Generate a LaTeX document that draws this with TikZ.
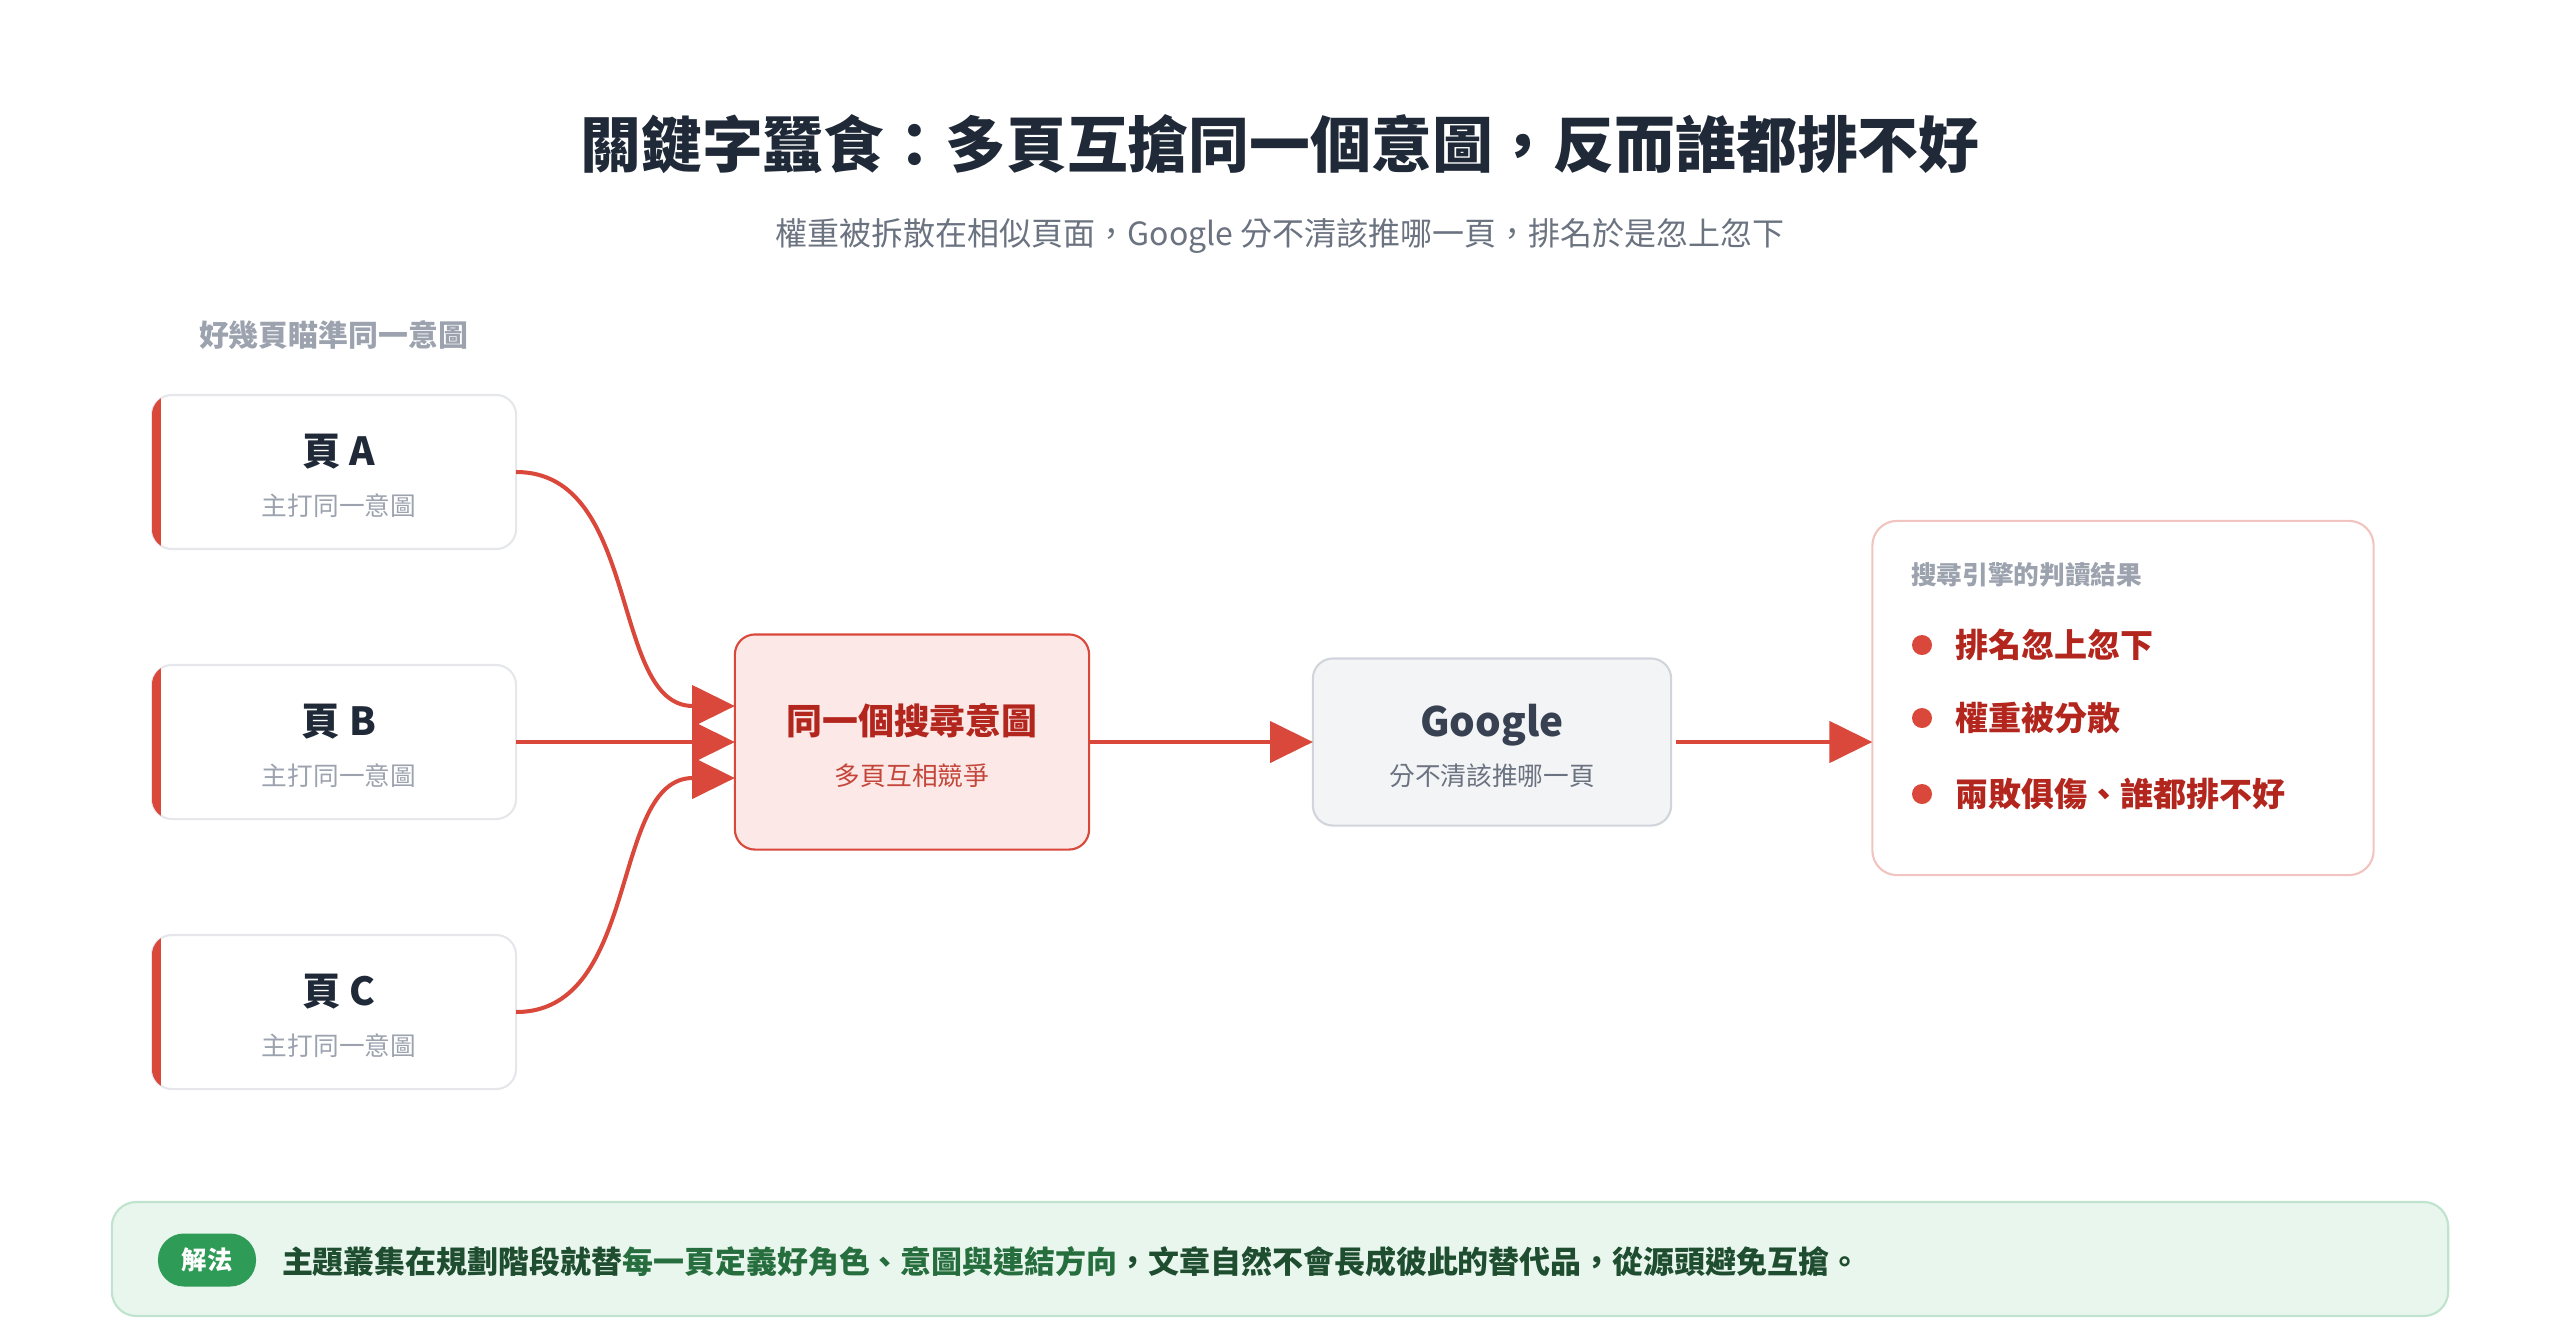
\documentclass[tikz,border=0pt]{standalone}
\usepackage{fontspec}
\setmainfont{Noto Sans CJK TC}
\usetikzlibrary{arrows.meta,positioning,calc}
\definecolor{inkdark}{RGB}{31,41,55}
\definecolor{inkgray}{RGB}{107,114,128}
\definecolor{inklight}{RGB}{156,163,175}
\definecolor{linegray}{RGB}{229,231,235}
\definecolor{clashred}{RGB}{217,72,59}
\definecolor{clashdark}{RGB}{179,38,30}
\definecolor{clashsoft}{RGB}{196,70,58}
\definecolor{clashfill}{RGB}{252,232,230}
\definecolor{clashline}{RGB}{242,196,191}
\definecolor{googfill}{RGB}{243,244,246}
\definecolor{googline}{RGB}{209,213,219}
\definecolor{googink}{RGB}{55,65,81}
\definecolor{fixfill}{RGB}{233,246,238}
\definecolor{fixline}{RGB}{191,227,204}
\definecolor{fixgreen}{RGB}{46,155,87}
\definecolor{fixdark}{RGB}{30,77,47}
\definecolor{fixmid}{RGB}{38,110,62}

\begin{document}
\begin{tikzpicture}[x=0.01cm,y=-0.01cm,
  every node/.style={inner sep=0pt,outer sep=0pt},
  pagebox/.style={draw=linegray,line width=0.6pt,fill=white,rounded corners=5.7pt,minimum width=3.64cm,minimum height=1.54cm},
  pagehead/.style={font=\fontsize{11}{13}\selectfont\bfseries,text=inkdark},
  pagenote/.style={font=\fontsize{7.3}{9}\selectfont,text=inklight},
  flow/.style={draw=clashred,line width=1.15pt,-{Triangle[length=12.2pt,width=11.7pt]}},
  bullet/.style={circle,fill=clashred,minimum size=0.2cm},
  outcome/.style={anchor=west,font=\fontsize{9.4}{11}\selectfont\bfseries,text=clashdark}]
\useasboundingbox (0,0) rectangle (2560,1342);
% heading
\node[font=\fontsize{17.3}{20}\selectfont\bfseries,text=inkdark] (title) at (1280,144) {關鍵字蠶食：多頁互搶同一個意圖，反而誰都排不好};
\node[font=\fontsize{9.1}{11}\selectfont,text=inkgray] (subtitle) at (1280,236) {權重被拆散在相似頁面，Google 分不清該推哪一頁，排名於是忽上忽下};
\node[anchor=west,font=\fontsize{8.5}{10}\selectfont\bfseries,text=inklight] (grouplabel) at (199,335) {好幾頁瞄準同一意圖};

% competing pages (red left edge)
\foreach \name/\ypos/\tag in {pageA/472/A,pageB/742/B,pageC/1012/C}{
  \node[pagebox] (\name) at (334,\ypos) {};
  \begin{scope}
    \clip[rounded corners=5.7pt] (\name.north west) rectangle (\name.south east);
    \fill[clashred] (\name.north west) rectangle ([xshift=2.5pt]\name.south west);
  \end{scope}
  \node[pagehead] (\name-head) at ($(\name)+(5,-20)$) {頁 \tag};
  \node[pagenote] (\name-note) at ($(\name)+(5,34)$) {主打同一意圖};
}

% shared intent
\node[draw=clashred,fill=clashfill,line width=0.6pt,rounded corners=5.7pt,minimum width=3.54cm,minimum height=2.15cm] (intent) at (912,742) {};
\node[font=\fontsize{10.2}{12}\selectfont\bfseries,text=clashdark] (intent-head) at ($(intent)+(0,-21)$) {同一個搜尋意圖};
\node[font=\fontsize{7.3}{9}\selectfont,text=clashsoft] (intent-note) at ($(intent)+(0,34)$) {多頁互相競爭};

% google
\node[draw=googline,fill=googfill,line width=0.6pt,rounded corners=5.7pt,minimum width=3.58cm,minimum height=1.67cm] (google) at (1492,742) {};
\node[font=\fontsize{11.5}{13}\selectfont\bfseries,text=googink] (google-head) at ($(google)+(0,-17)$) {Google};
\node[pagenote,text=inkgray] (google-note) at ($(google)+(0,34)$) {分不清該推哪一頁};

% outcome box
\node[draw=clashline,fill=white,line width=0.6pt,rounded corners=7pt,minimum width=5.01cm,minimum height=3.54cm] (result) at (2123,698) {};
\node[anchor=west,font=\fontsize{7.3}{9}\selectfont\bfseries,text=inklight] (result-head) at (1911,575) {搜尋引擎的判讀結果};
\foreach \i/\ypos/\txt in {1/645/排名忽上忽下,2/718/權重被分散,3/794/兩敗俱傷、誰都排不好}{
  \node[bullet] (dot\i) at (1922,\ypos) {};
  \node[outcome] (item\i) at (1955,\ypos) {\txt};
}

% connectors
\coordinate (inA) at ($(intent.west)+(0,-36)$);
\coordinate (inC) at ($(intent.west)+(0,36)$);
\coordinate (resin) at (result.west |- google.east);
\draw[flow] (pageA.east) to[out=0,in=180] (inA);
\draw[flow] (pageB.east) -- (intent.west);
\draw[flow] (pageC.east) to[out=0,in=180] (inC);
\draw[flow] (intent.east) -- (google.west);
\draw[flow,shorten <=1.4pt] (google.east) -- (resin);

% fix banner
\node[draw=fixline,fill=fixfill,line width=0.6pt,rounded corners=7pt,minimum width=23.35cm,minimum height=1.14cm] (banner) at (1280,1259) {};
\node[fill=fixgreen,rounded corners=0.26cm,minimum width=0.98cm,minimum height=0.53cm,text=white,font=\fontsize{7.2}{9}\selectfont\bfseries] (tag) at (207,1260) {解法};
\node[anchor=west,font=\fontsize{8.8}{11}\selectfont\bfseries,text=fixdark] (fixtext) at (282,1262) {主題叢集在規劃階段就替\textcolor{fixmid}{每一頁定義好角色、意圖與連結方向}，文章自然不會長成彼此的替代品，從源頭避免互搶。};
\end{tikzpicture}
\end{document}
